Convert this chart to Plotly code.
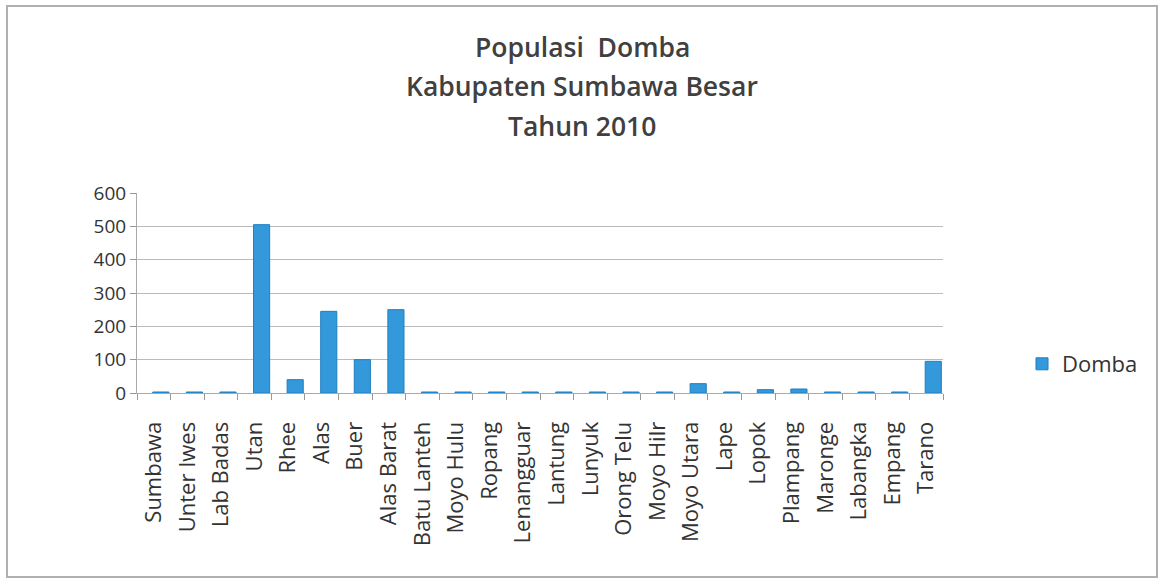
import plotly.graph_objects as go

categories = ["Sumbawa", "Unter Iwes", "Lab Badas", "Utan", "Rhee", "Alas", "Buer",
              "Alas Barat", "Batu Lanteh", "Moyo Hulu", "Ropang", "Lenangguar",
              "Lantung", "Lunyuk", "Orong Telu", "Moyo Hilr", "Moyo Utara", "Lape",
              "Lopok", "Plampang", "Maronge", "Labangka", "Empang", "Tarano"]
domba = [3, 3, 3, 505, 40, 245, 100, 250, 3, 3, 3, 3,
         3, 3, 3, 3, 28, 3, 10, 12, 3, 3, 3, 95]
y_ticks = [0, 100, 200, 300, 400, 500, 600]
title_lines = ["Populasi  Domba", "Kabupaten Sumbawa Besar", "Tahun 2010"]

W, H = 1160, 579
L, R, T, B = 137, 943, 193, 393

fig = go.Figure()
fig.add_trace(go.Bar(
    x=categories, y=domba, name="Domba",
    marker=dict(color="#3399db", line=dict(color="#1f7fc0", width=1)),
    width=0.48, offset=-0.03,
))

font_main = "Open Sans, Lato, sans-serif"
title_y = [47, 86, 126]
annotations = [
    dict(text=t, xref="paper", yref="paper",
         x=(582 - L) / (R - L), y=(B - yy) / (B - T),
         xanchor="center", yanchor="middle", showarrow=False,
         font=dict(family=font_main, size=26.5, color="#404040", weight=600))
    for t, yy in zip(title_lines, title_y)
]

fig.update_layout(
    width=W, height=H,
    margin=dict(l=L, r=W - R, t=T, b=H - B, autoexpand=False),
    paper_bgcolor="white", plot_bgcolor="white",
    showlegend=True,
    annotations=annotations,
    legend=dict(
        x=(1022 - L) / (R - L), xanchor="left",
        y=(B - 364) / (B - T), yanchor="middle",
        font=dict(family=font_main, size=22, color="#333333"),
        bgcolor="rgba(0,0,0,0)", itemwidth=30,
    ),
    xaxis=dict(
        type="category", range=[-0.5, len(categories) - 0.5],
        tickangle=-90, ticks="outside", ticklen=6, tickcolor="#999999",
        tickson="boundaries", ticklabelstandoff=19,
        showline=True, linecolor="#aaaaaa", linewidth=1,
        tickfont=dict(family=font_main, size=22, color="#333333"),
        showgrid=False,
    ),
    yaxis=dict(
        range=[0, 600], tickvals=y_ticks,
        ticks="outside", ticklen=6, tickcolor="#999999",
        showline=True, linecolor="#aaaaaa", linewidth=1,
        gridcolor="#bbbbbb", gridwidth=1,
        tickfont=dict(family=font_main, size=19, color="#333333"),
        zeroline=False,
    ),
    shapes=[dict(type="rect", xref="paper", yref="paper",
                 x0=(7 - L) / (R - L), x1=(1157 - L) / (R - L),
                 y0=(B - 577) / (B - T), y1=(B - 6) / (B - T),
                 line=dict(color="#b0b0b0", width=2), layer="below")],
)

fig.write_html("out.html")
